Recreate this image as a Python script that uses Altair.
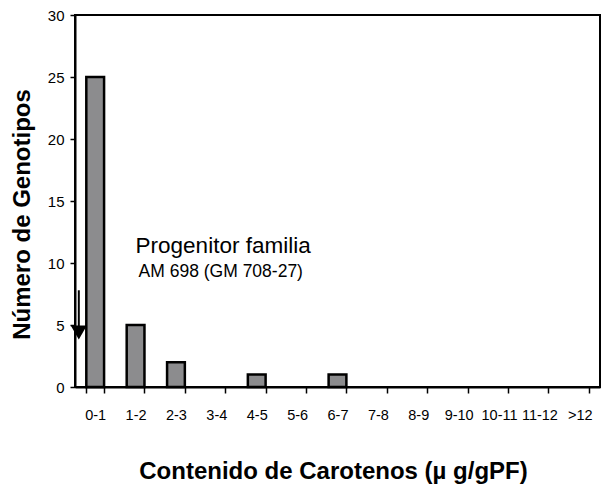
import altair as alt
import pandas as pd

categories = ["0-1", "1-2", "2-3", "3-4", "4-5", "5-6", "6-7",
              "7-8", "8-9", "9-10", "10-11", "11-12", ">12"]
counts = [25, 5, 2, 0, 1, 0, 1, 0, 0, 0, 0, 0, 0]
y_ticks = [0, 5, 10, 15, 20, 25, 30]

annot_title = "Progenitor familia"
annot_sub = "AM 698 (GM 708-27)"
annot_cat = "1-2"
annot_title_y = 10.8
annot_sub_y = 8.87

arrow_cat = "0-1"
arrow_start = 7.8
arrow_end = 4.8
arrow_head = 4.4

FONT = "Liberation Sans"

bars_df = pd.DataFrame({"cat": categories, "val": counts})
bars_df = bars_df[bars_df["val"] > 0]

xscale = alt.Scale(domain=categories, paddingInner=0.56, paddingOuter=0.28)
yscale = alt.Scale(domain=[0, 30])

x_axis = alt.Axis(
    labelAngle=0, tickBand="extent", tickSize=6, labelFontSize=14.5,
    labelBaseline="alphabetic", labelPadding=26,
    titleFontSize=24, titleFontWeight="bold", titleX=258, titleY=91,
    titleBaseline="alphabetic",
)
y_axis = alt.Axis(
    values=y_ticks, tickSize=5, labelPadding=6, labelFontSize=15,
    titleFontSize=24, titleFontWeight="bold", titleX=-41, titleY=199,
)

x_enc = alt.X("cat:N", scale=xscale, sort=categories, axis=x_axis,
              title="Contenido de Carotenos (µ g/gPF)")
y_enc = alt.Y("val:Q", scale=yscale, axis=y_axis, title="Número de Genotipos")

bars = alt.Chart(bars_df).mark_bar(
    color="#8c8c8e", stroke="black", strokeWidth=2.5
).encode(x=x_enc, y=y_enc)

arrow_df = pd.DataFrame({"cat": [arrow_cat], "val": [arrow_start], "val2": [arrow_end]})
rule = alt.Chart(arrow_df).mark_rule(color="black", strokeWidth=2).encode(
    x=x_enc, y=y_enc, y2="val2:Q", xOffset=alt.value(-7.5)
)

head_df = pd.DataFrame({"cat": [arrow_cat], "val": [arrow_head]})
head = alt.Chart(head_df).mark_point(
    shape="triangle-down", filled=True, color="black", size=260, opacity=1
).encode(x=x_enc, y=y_enc, xOffset=alt.value(-7.5))

t1_df = pd.DataFrame({"cat": [annot_cat], "val": [annot_title_y], "txt": [annot_title]})
t1 = alt.Chart(t1_df).mark_text(
    align="left", baseline="alphabetic", fontSize=22.5, font=FONT, color="black", dx=0
).encode(x=x_enc, y=y_enc, text="txt:N")

t2_df = pd.DataFrame({"cat": [annot_cat], "val": [annot_sub_y], "txt": [annot_sub]})
t2 = alt.Chart(t2_df).mark_text(
    align="left", baseline="alphabetic", fontSize=17.5, font=FONT, color="black", dx=3
).encode(x=x_enc, y=y_enc, text="txt:N")

chart = alt.layer(bars, rule, head, t1, t2).properties(
    width=525, height=372,
    autosize=alt.AutoSizeParams(type="none"),
    padding={"left": 67, "top": 7, "right": 1, "bottom": 97},
).configure_view(
    stroke="black", strokeWidth=2
).configure_axis(
    grid=False, domainColor="black", tickColor="black", labelColor="black",
    titleColor="black", labelFont=FONT, titleFont=FONT, domainWidth=2, tickWidth=1.5,
)

chart.save("out.html", embed_options={"renderer": "svg", "actions": False})
